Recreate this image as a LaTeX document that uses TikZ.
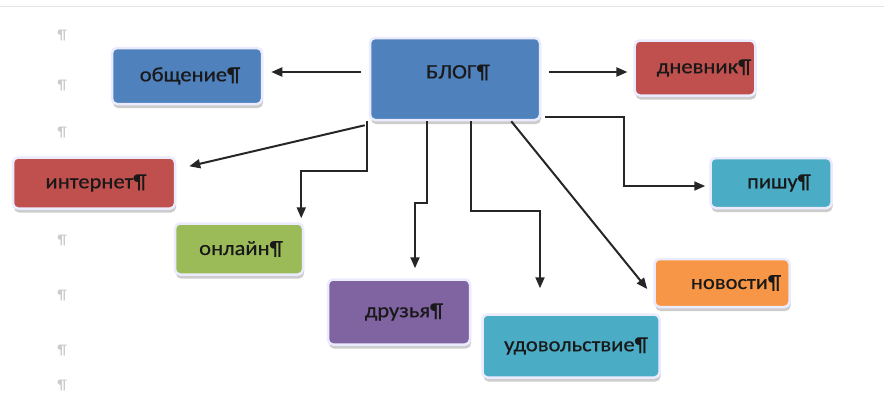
\documentclass[tikz,border=0pt]{standalone}
\usepackage{fontspec}
\setmainfont{Carlito}
\newfontfamily\boxfont[FakeBold=0.6,FakeStretch=1.1]{Carlito}
\usetikzlibrary{arrows.meta,shadows}

\definecolor{wblue}{HTML}{4F81BD}
\definecolor{wred}{HTML}{C0504D}
\definecolor{wgreen}{HTML}{9BBB59}
\definecolor{wteal}{HTML}{4BACC6}
\definecolor{wviolet}{HTML}{8064A2}
\definecolor{worange}{HTML}{F79646}

\begin{document}
\begin{tikzpicture}[x=1pt,y=-1pt,
			word box/.style={rectangle,rounded corners=5pt,draw=blue!8,line width=2.5pt,
				font=\boxfont\fontsize{20.5}{21}\selectfont,text=black!90,inner xsep=4pt,
				drop shadow={shadow xshift=1pt,shadow yshift=-4pt,opacity=0.4}},
			push/.style={execute at begin node={\hspace*{#1}}},
			link/.style={-{Triangle[length=11pt,width=9pt]},line width=2pt,draw=black!85},
			pilcrow/.style={text=black!20,font=\boxfont\fontsize{14}{14}\selectfont}
			]
			
			\useasboundingbox (0,0) rectangle (884,397);
			\draw[black!10,line width=1pt] (0,6) -- (884,6);
			
			% faded paragraph marks on the left
			\foreach \y [count=\i] in {35,85,132,240,295,350,385} {
				\node[pilcrow] (pm\i) at (62,\y) {¶};
			}
			
			\node[word box,fill=wblue,minimum width=170pt,minimum height=82pt,text depth=15pt,push=6pt] (blog) at (455,79) {БЛОГ¶};
			\node[word box,fill=wblue,minimum width=150pt,minimum height=56pt,push=6pt] (obsh) at (187,76) {общение¶};
			\node[word box,fill=wred,minimum width=120pt,minimum height=55pt,push=18pt] (dnev) at (695,68) {дневник¶};
			\node[word box,fill=wred,minimum width=162pt,minimum height=51pt,push=4pt] (inet) at (94,183) {интернет¶};
			\node[word box,fill=wgreen,minimum width=128pt,minimum height=51pt,push=4pt] (onl) at (239,249) {онлайн¶};
			\node[word box,fill=wteal,minimum width=121pt,minimum height=50pt,push=16pt] (pishu) at (771,183) {пишу¶};
			\node[word box,fill=wviolet,minimum width=142pt,minimum height=65pt,push=10pt] (druz) at (399,312) {друзья¶};
			\node[word box,fill=wteal,minimum width=177pt,minimum height=63pt,push=10pt] (udov) at (571,346) {удовольствие¶};
			\node[word box,fill=worange,minimum width=135pt,minimum height=48pt,push=28pt] (novo) at (722,283) {новости¶};
			
			\draw[link] ([xshift=-8pt,yshift=7pt]blog.west) -- ([xshift=8pt,yshift=4pt]obsh.east);
			\draw[link] ([xshift=8pt,yshift=7pt]blog.east) -- ([xshift=-6pt,yshift=-4pt]dnev.west);
			\draw[link] ([xshift=-4pt,yshift=-4pt]blog.south west) -- ([xshift=13pt,yshift=-10pt]inet.north east);
			\draw[link] ([xshift=-2pt]blog.south west) -- ++(0,50) -| ([xshift=-3pt,yshift=4pt]onl.north east);
			\draw[link] ([xshift=58pt]blog.south west) -- ++(0,82) -| ([xshift=16pt,yshift=10pt]druz.north);
			\draw[link] ([xshift=102pt]blog.south west) -- ++(0,90) -| ([xshift=-31pt,yshift=25pt]udov.north);
			\draw[link] ([xshift=-30pt]blog.south east) -- ([xshift=-6pt,yshift=-6pt]novo.west);
			\draw[link] ([xshift=4pt,yshift=4pt]blog.south east) -- ++(79,0) |- ([xshift=-4pt,yshift=-3pt]pishu.west);
			
\end{tikzpicture}
\end{document}
